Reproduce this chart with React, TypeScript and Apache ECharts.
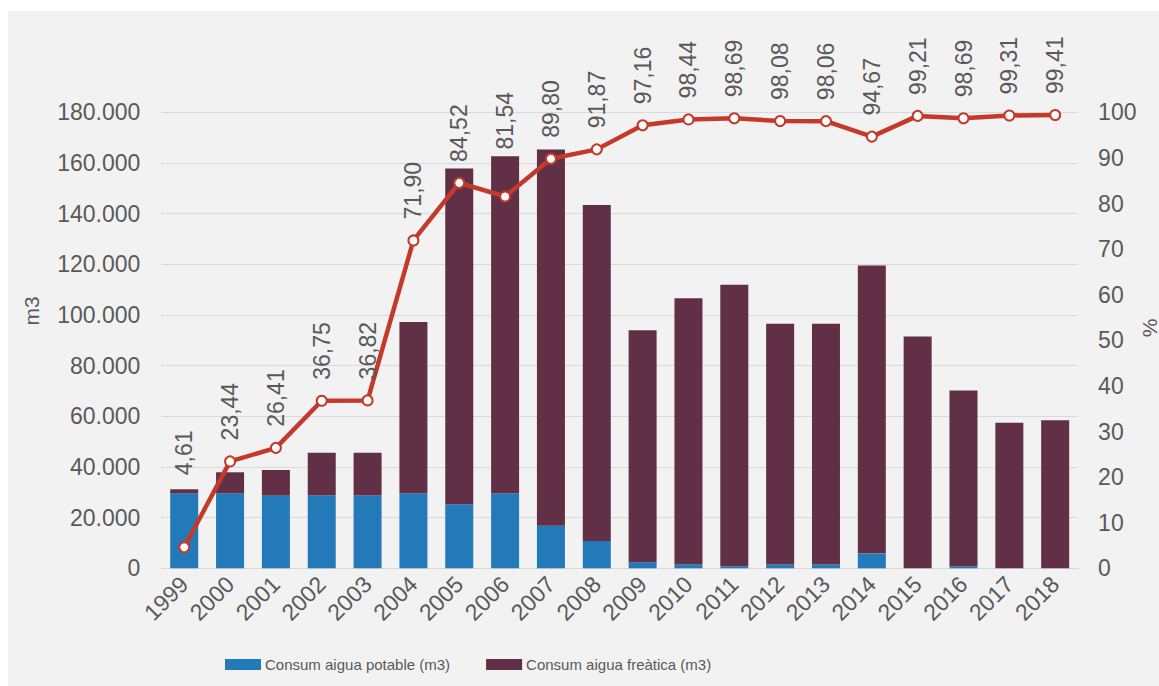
import React, { useEffect, useRef } from "react";
import * as echarts from "echarts";

const years = ["1999","2000","2001","2002","2003","2004","2005","2006","2007","2008","2009","2010","2011","2012","2013","2014","2015","2016","2017","2018"];
const potable = [29600, 29600, 28700, 28700, 28700, 29600, 25300, 29600, 16800, 10800, 2400, 1500, 800, 1500, 1500, 5900, 0, 800, 0, 0];
const freatica = [1600, 8300, 10100, 16900, 16900, 67600, 132500, 133100, 148500, 132600, 91600, 105100, 111100, 95000, 95000, 113600, 91500, 69400, 57500, 58400];
const percent = [4.61, 23.44, 26.41, 36.75, 36.82, 71.9, 84.52, 81.54, 89.8, 91.87, 97.16, 98.44, 98.69, 98.08, 98.06, 94.67, 99.21, 98.69, 99.31, 99.41];

const TEXT = "#595959";
const FONT = "'Liberation Sans', Arial, sans-serif";

export default function App() {
  const ref = useRef<HTMLDivElement>(null);
  useEffect(() => {
    document.body.style.overflow = "hidden";
    const chart = echarts.init(ref.current!, null, { renderer: "svg" });
    const fmtThousands = (v: number) => String(v).replace(/\B(?=(\d{3})+(?!\d))/g, ".");
    chart.setOption({
      animation: false,
      backgroundColor: "#f2f2f2",
      textStyle: { fontFamily: FONT },
      grid: { left: 153.3, right: 80.9, top: 101.3, bottom: 117.7, containLabel: false },
      legend: {
        top: 646,
        left: 217,
        padding: 0,
        itemWidth: 36,
        itemHeight: 11,
        itemGap: 36,
        icon: "rect",
        data: ["Consum aigua potable (m3)", "Consum aigua freàtica (m3)"],
        textStyle: { fontFamily: FONT, fontSize: 15, color: TEXT, padding: [0, 0, 0, -1] },
      },
      xAxis: {
        type: "category",
        data: years,
        axisLine: { lineStyle: { color: "#d9d9d9", width: 1 } },
        axisTick: { show: false },
        axisLabel: { rotate: 45, fontSize: 23, color: TEXT, margin: 12, interval: 0 },
      },
      yAxis: [
        {
          type: "value",
          min: 0,
          max: 180000,
          interval: 20000,
          axisLine: { show: false },
          axisTick: { show: false },
          splitLine: { lineStyle: { color: "#d9d9d9", width: 1 } },
          axisLabel: { fontSize: 23, color: TEXT, margin: 21, formatter: fmtThousands },
        },
        {
          type: "value",
          min: 0,
          max: 100,
          interval: 10,
          axisLine: { show: false },
          axisTick: { show: false },
          splitLine: { show: false },
          axisLabel: { fontSize: 23, color: TEXT, margin: 20 },
        },
      ],
      series: [
        {
          name: "Consum aigua potable (m3)",
          type: "bar",
          stack: "c",
          barWidth: 28,
          data: potable,
          itemStyle: { color: "#2479b9" },
        },
        {
          name: "Consum aigua freàtica (m3)",
          type: "bar",
          stack: "c",
          barWidth: 28,
          data: freatica,
          itemStyle: { color: "#612f46" },
        },
        {
          name: "%",
          type: "line",
          yAxisIndex: 1,
          data: percent.map((v, i) =>
            i === 0
              ? { value: v, label: { distance: 60, offset: [6, 0] } }
              : i === 7
              ? { value: v, label: { distance: 41 } }
              : v
          ),
          lineStyle: { color: "#c33a2b", width: 4.5 },
          symbol: "circle",
          symbolSize: 10,
          itemStyle: { color: "#ffffff", borderColor: "#c33a2b", borderWidth: 2 },
          z: 5,
          label: {
            show: true,
            position: "top",
            distance: 15,
            rotate: 90,
            align: "left",
            verticalAlign: "middle",
            fontSize: 23,
            color: TEXT,
            formatter: (p: any) => Number(p.value).toFixed(2).replace(".", ","),
          },
        },
      ],
      graphic: [
        {
          type: "text",
          x: 23,
          y: 300,
          rotation: Math.PI / 2,
          style: { text: "m3", fontSize: 21, fill: TEXT, fontFamily: FONT, align: "center", verticalAlign: "middle" },
        },
        {
          type: "text",
          x: 1141,
          y: 317,
          rotation: Math.PI / 2,
          style: { text: "%", fontSize: 21, fill: TEXT, fontFamily: FONT, align: "center", verticalAlign: "middle" },
        },
      ],
    });
    return () => chart.dispose();
  }, []);
  return (
    <div
      ref={ref}
      style={{ position: "absolute", left: 8, top: 11, width: 1151, height: 675 }}
    />
  );
}
